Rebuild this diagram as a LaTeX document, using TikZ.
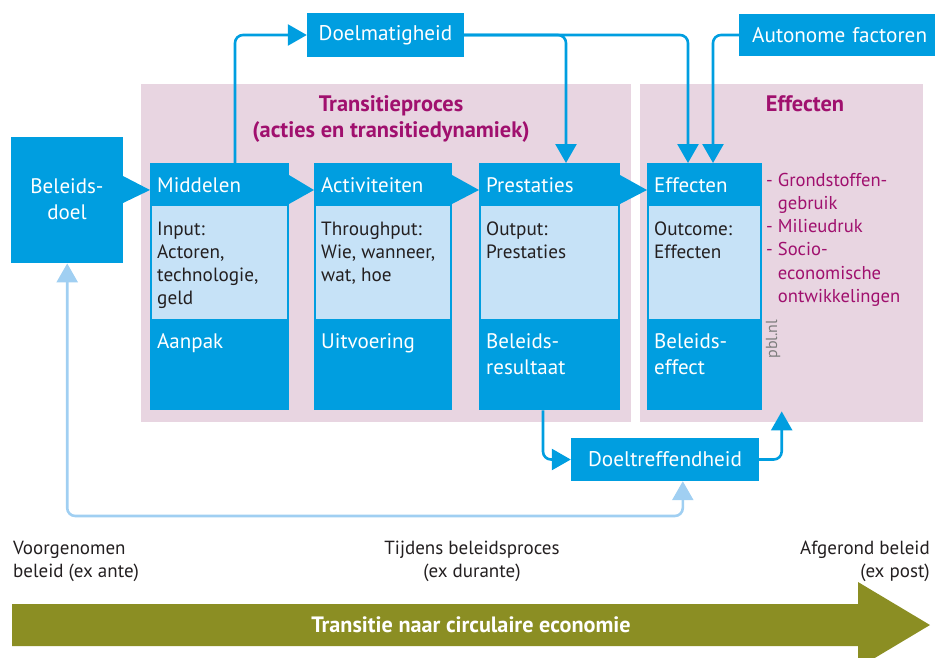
\documentclass[tikz,border=0pt]{standalone}
\usepackage{fontspec}
\setmainfont{PT Sans}
\usetikzlibrary{arrows.meta}
\definecolor{pblblue}{RGB}{0,158,224}
\definecolor{panelblue}{RGB}{198,226,247}
\definecolor{fbblue}{RGB}{160,207,242}
\definecolor{pinkbg}{RGB}{232,213,225}
\definecolor{pblmagenta}{RGB}{160,16,110}
\definecolor{olivegreen}{RGB}{139,142,35}
\definecolor{darktext}{RGB}{35,31,32}
\definecolor{pblgray}{RGB}{125,125,125}
\newcommand{\mlt}[2]{\parbox[t]{#1}{#2}}
\begin{document}
\begin{tikzpicture}[x=1pt,y=-1pt,
 bluebox/.style={fill=pblblue, inner sep=0, text=white, font=\fontsize{21.2}{26}\selectfont},
 colbox/.style={fill=pblblue, inner sep=0, anchor=north west},
 panelbox/.style={fill=panelblue, inner sep=0, anchor=north west},
 bgbox/.style={fill=pinkbg, inner sep=0, anchor=north west},
 hdr/.style={anchor=base west, inner sep=0, text=white, font=\fontsize{21}{26}\selectfont},
 ptext/.style={anchor=base west, inner sep=0, text=darktext, font=\fontsize{19.2}{23.3}\selectfont},
 ttl/.style={anchor=base, inner sep=0, text=pblmagenta, font=\bfseries\fontsize{22.4}{26}\selectfont},
 ltext/.style={inner sep=0, text=darktext, font=\fontsize{19}{23}\selectfont},
 conn/.style={draw=pblblue, line width=2.6pt, rounded corners=8pt, -{Triangle[length=19pt,width=21pt]}},
 fb/.style={draw=fbblue, line width=2.6pt, rounded corners=8pt, {Triangle[length=19pt,width=21pt]}-{Triangle[length=19pt,width=21pt]}},
]
\useasboundingbox (0,0) rectangle (935,657);
\clip (0,0) rectangle (935,657);

% backgrounds
\node[bgbox, minimum width=490pt, minimum height=338pt] (procbg) at (141,84) {};
\node[bgbox, minimum width=283pt, minimum height=338pt] (effbg) at (640,84) {};
\node[ttl] at (391,111) {\mlt{340pt}{\centering Transitieproces\\(acties en transitiedynamiek)}};
\node[ttl] at (805,111) {Effecten};

% top boxes
\node[bluebox, minimum width=157pt, minimum height=44pt] (doelm) at (385.5,35) {Doelmatigheid};
\node[bluebox, anchor=west, minimum height=42pt, inner xsep=13pt, text width=190pt] (auto) at (739,35) {Autonome factoren};

% Beleidsdoel
\node[colbox, minimum width=112pt, minimum height=126pt] (beleid) at (11,137) {};
\node[hdr, anchor=base] at (67,193) {\mlt{100pt}{\centering Beleids-\\doel}};
\fill[pblblue] (123,176) -- (150,190) -- (123,203) -- cycle;

% Middelen
\node[colbox, minimum width=139pt, minimum height=247pt] (mid) at (150,163) {};
\node[panelbox, minimum width=135pt, minimum height=113pt] (midp) at (152,206) {};
\node[hdr] at (157,192) {Middelen};
\node[ptext] at (157,235) {\mlt{128pt}{Input:\\Actoren,\\technologie,\\geld}};
\node[hdr] at (157,348) {Aanpak};
\fill[pblblue] (289,175) -- (314,190) -- (289,204) -- cycle;

% Activiteiten
\node[colbox, minimum width=138pt, minimum height=247pt] (act) at (314,163) {};
\node[panelbox, minimum width=134pt, minimum height=113pt] (actp) at (316,206) {};
\node[hdr] at (321,192) {Activiteiten};
\node[ptext] at (321,235) {\mlt{128pt}{Throughput:\\Wie, wanneer,\\wat, hoe}};
\node[hdr] at (321,348) {Uitvoering};
\fill[pblblue] (452,175) -- (479,190) -- (452,204) -- cycle;

% Prestaties
\node[colbox, minimum width=141pt, minimum height=247pt] (pres) at (479,163) {};
\node[panelbox, minimum width=137pt, minimum height=113pt] (presp) at (481,206) {};
\node[hdr] at (486,192) {Prestaties};
\node[ptext] at (486,235) {\mlt{128pt}{Output:\\Prestaties}};
\node[hdr] at (486,348) {\mlt{128pt}{Beleids-\\resultaat}};
\fill[pblblue] (620,175) -- (647,190) -- (620,204) -- cycle;

% Effecten
\node[colbox, minimum width=115pt, minimum height=247pt] (eff) at (647,163) {};
\node[panelbox, minimum width=111pt, minimum height=113pt] (effp) at (649,206) {};
\node[hdr] at (654,192) {Effecten};
\node[ptext] at (654,235) {\mlt{105pt}{Outcome:\\Effecten}};
\node[hdr] at (654,348) {\mlt{105pt}{Beleids-\\effect}};

% list
\node[anchor=base west, inner sep=0, text=pblmagenta, font=\fontsize{18.6}{23.3}\selectfont] (list) at (766,186)
 {\begin{tabular}[t]{@{}l@{\hspace{5pt}}l@{}}-&Grondstoffen-\\ &gebruik\\ -&Milieudruk\\ -&Socio-\\ &economische\\ &ontwikkelingen\end{tabular}};
\node[rotate=90, inner sep=0, text=pblgray, font=\fontsize{16}{16}\selectfont] (pbl) at (773,339) {pbl.nl};

% Doeltreffendheid
\node[bluebox, minimum width=188pt, minimum height=43pt] (doeltr) at (665,459.5) {Doeltreffendheid};

% connectors
\draw[conn] ([xshift=85pt]mid.north west) |- (doelm.west);
\draw[conn] (doelm.east) -| ([xshift=87pt]pres.north west);
\draw[conn] (doelm.east) -| ([xshift=41pt]eff.north west);
\draw[conn] (auto.west) -| ([xshift=66pt]eff.north west);
\draw[conn] ([xshift=64pt]pres.south west) |- (doeltr.west);
\draw[conn] (doeltr.east) -| ([yshift=11pt]effbg.south);
\coordinate (fbrow) at (0,516);
\draw[fb] (beleid.south) -- (beleid.south |- fbrow) -| ([xshift=112pt]doeltr.south west);

% timeline labels
\node[ltext, anchor=base west] (ante) at (13,554) {\mlt{200pt}{Voorgenomen\\beleid (ex ante)}};
\node[ltext, anchor=base] (durante) at (472,554) {\mlt{300pt}{\centering Tijdens beleidsproces\\(ex durante)}};
\node[ltext, anchor=base east] (post) at (930,554) {\mlt{200pt}{\raggedleft Afgerond beleid\\(ex post)}};

% big arrow
\fill[olivegreen] (12,604) -- (858,604) -- (858,582) -- (930,625) -- (858,668) -- (858,646) -- (12,646) -- cycle;
\node[text=white, font=\bfseries\fontsize{22.2}{26}\selectfont] (trans) at (471,625) {Transitie naar circulaire economie};
\end{tikzpicture}
\end{document}
